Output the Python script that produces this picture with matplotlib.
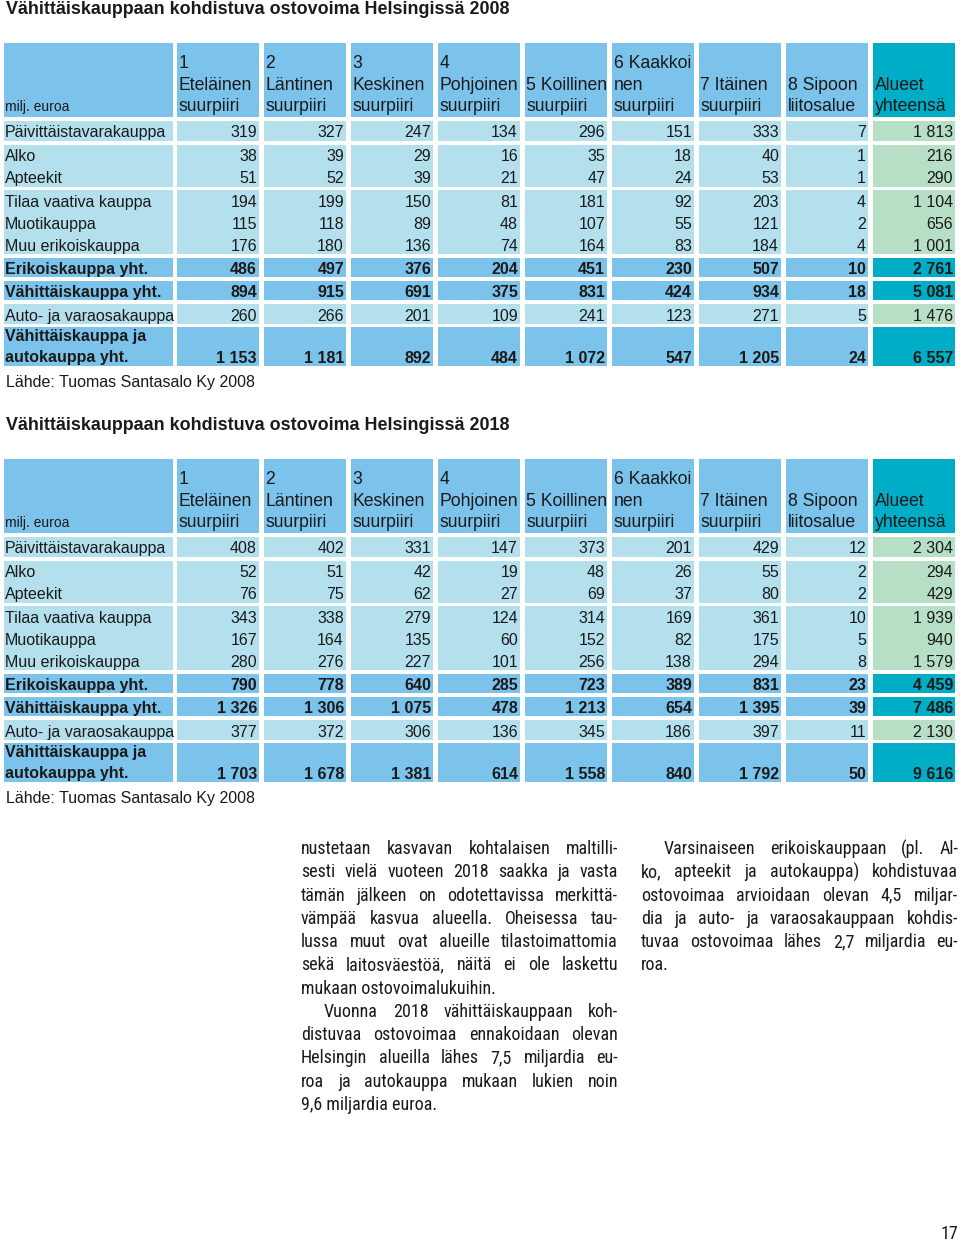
import matplotlib
matplotlib.use("Agg")
import matplotlib.pyplot as plt
from matplotlib.patches import Rectangle
from matplotlib import font_manager as fm

# ---------------- data ----------------
districts = [["1", "Eteläinen", "suurpiiri"],
             ["2", "Läntinen", "suurpiiri"],
             ["3", "Keskinen", "suurpiiri"],
             ["4", "Pohjoinen", "suurpiiri"],
             ["5 Koillinen", "suurpiiri"],
             ["6 Kaakkoi", "nen", "suurpiiri"],
             ["7 Itäinen", "suurpiiri"],
             ["8 Sipoon", "liitosalue"],
             ["Alueet", "yhteensä"]]

categories = ["Päivittäistavarakauppa", "Alko", "Apteekit", "Tilaa vaativa kauppa",
              "Muotikauppa", "Muu erikoiskauppa", "Erikoiskauppa yht.",
              "Vähittäiskauppa yht.", "Auto- ja varaosakauppa",
              "Vähittäiskauppa ja\nautokauppa yht."]

values_2008 = [
    [319, 327, 247, 134, 296, 151, 333, 7, 1813],
    [38, 39, 29, 16, 35, 18, 40, 1, 216],
    [51, 52, 39, 21, 47, 24, 53, 1, 290],
    [194, 199, 150, 81, 181, 92, 203, 4, 1104],
    [115, 118, 89, 48, 107, 55, 121, 2, 656],
    [176, 180, 136, 74, 164, 83, 184, 4, 1001],
    [486, 497, 376, 204, 451, 230, 507, 10, 2761],
    [894, 915, 691, 375, 831, 424, 934, 18, 5081],
    [260, 266, 201, 109, 241, 123, 271, 5, 1476],
    [1153, 1181, 892, 484, 1072, 547, 1205, 24, 6557],
]

values_2018 = [
    [408, 402, 331, 147, 373, 201, 429, 12, 2304],
    [52, 51, 42, 19, 48, 26, 55, 2, 294],
    [76, 75, 62, 27, 69, 37, 80, 2, 429],
    [343, 338, 279, 124, 314, 169, 361, 10, 1939],
    [167, 164, 135, 60, 152, 82, 175, 5, 940],
    [280, 276, 227, 101, 256, 138, 294, 8, 1579],
    [790, 778, 640, 285, 723, 389, 831, 23, 4459],
    [1326, 1306, 1075, 478, 1213, 654, 1395, 39, 7486],
    [377, 372, 306, 136, 345, 186, 397, 11, 2130],
    [1703, 1678, 1381, 614, 1558, 840, 1792, 50, 9616],
]

titles = ["Vähittäiskauppaan kohdistuva ostovoima Helsingissä 2008",
          "Vähittäiskauppaan kohdistuva ostovoima Helsingissä 2018"]
unit_label = "milj. euroa"
source_label = "Lähde: Tuomas Santasalo Ky 2008"

body_col1 = [
    ["nustetaan kasvavan kohtalaisen maltilli-",
     "sesti vielä vuoteen 2018 saakka ja vasta",
     "tämän jälkeen on odotettavissa merkittä-",
     "vämpää kasvua alueella. Oheisessa tau-",
     "lussa muut ovat alueille tilastoimattomia",
     "sekä laitosväestöä, näitä ei ole laskettu",
     "mukaan ostovoimalukuihin."],
    ["Vuonna 2018 vähittäiskauppaan koh-",
     "distuvaa ostovoimaa ennakoidaan olevan",
     "Helsingin alueilla lähes 7,5 miljardia eu-",
     "roa ja autokauppa mukaan lukien noin",
     "9,6 miljardia euroa."],
]
body_col2 = [
    ["Varsinaiseen erikoiskauppaan (pl. Al-",
     "ko, apteekit ja autokauppa) kohdistuvaa",
     "ostovoimaa arvioidaan olevan 4,5 miljar-",
     "dia ja auto- ja varaosakauppaan kohdis-",
     "tuvaa ostovoimaa lähes 2,7 miljardia eu-",
     "roa."],
]
page_number = "17"

# ---------------- style ----------------
HEAD = "#7cc3eb"
CELL = "#b4e0ed"
GREEN = "#b6dfc6"
TEAL = "#00adc6"
TXT = "#1a1a1a"
FONT = ["Liberation Sans", "DejaVu Sans"]

def pick_font(cands):
    for c in cands:
        try:
            fm.findfont(fm.FontProperties(family=c), fallback_to_default=False)
            return c
        except Exception:
            pass
    return "DejaVu Sans"

BODY_FONT = pick_font(["Liberation Sans Narrow", "DejaVu Sans Condensed", "Roboto Condensed", "Open Sans Condensed", "Lato"])

fig = plt.figure(figsize=(9.6, 12.42), dpi=100)
ax = fig.add_axes([0, 0, 1, 1])
ax.set_xlim(0, 960)
ax.set_ylim(1242, 0)
ax.axis("off")

col_left = [4] + [177 + 87 * i for i in range(9)]
col_right = [173] + [259 + 87 * i for i in range(9)]

# row blocks: (top, bottom, [(category index, text y)], bold)
blocks = [
    (121, 141, [(0, 131)], False),
    (145, 187, [(1, 155), (2, 177)], False),
    (190, 254, [(3, 201), (4, 223), (5, 245)], False),
    (258, 277, [(6, 268)], True),
    (281, 300, [(7, 291)], True),
    (304, 324, [(8, 315)], False),
    (327, 366, [(9, 357)], True),
]
DY = 1.5  # small vertical nudge of table text

def fmt(v):
    return f"{v:,}".replace(",", " ")

def draw_table(off, title_base, title, values):
    ax.text(6, title_base, title, fontsize=12.9, fontweight="bold",
            family=FONT, color=TXT, va="baseline", ha="left")
    # header
    for c in range(10):
        color = TEAL if c == 9 else HEAD
        ax.add_patch(Rectangle((col_left[c], 43 + off), col_right[c] - col_left[c], 74,
                               facecolor=color, edgecolor="none"))
    ax.text(col_left[0] + 1, 105 + off + DY, unit_label, fontsize=10, family=FONT,
            color=TXT, va="center", ha="left")
    line_y = [62, 84, 105]
    for c, lines in enumerate(districts):
        ys = line_y[-len(lines):]
        for ln, y in zip(lines, ys):
            ax.text(col_left[c + 1] + 1.5, y + off + DY, ln, fontsize=12.7, family=FONT,
                    color=TXT, va="center", ha="left")
    # body
    for top, bot, rows, bold in blocks:
        for c in range(10):
            if bold:
                color = TEAL if c == 9 else HEAD
            else:
                color = GREEN if c == 9 else CELL
            ax.add_patch(Rectangle((col_left[c], top + off), col_right[c] - col_left[c], bot - top,
                                   facecolor=color, edgecolor="none"))
        fw = "bold" if bold else "normal"
        for ri, y in rows:
            lab = categories[ri]
            if "\n" in lab:
                l1, l2 = lab.split("\n")
                ax.text(col_left[0] + 1, 335 + off + DY, l1, fontsize=11.5, fontweight=fw,
                        family=FONT, color=TXT, va="center", ha="left")
                ax.text(col_left[0] + 1, 356 + off + DY, l2, fontsize=11.5, fontweight=fw,
                        family=FONT, color=TXT, va="center", ha="left")
            else:
                ax.text(col_left[0] + 1, y + off + DY, lab, fontsize=11.5, fontweight=fw,
                        family=FONT, color=TXT, va="center", ha="left")
            for c in range(9):
                ax.text(col_right[c + 1] - 2, y + off + DY, fmt(values[ri][c]), fontsize=11.5,
                        fontweight=fw, family=FONT, color=TXT, va="center", ha="right")
    ax.text(6, 381 + off + DY, source_label, fontsize=11.5, family=FONT, color=TXT,
            va="center", ha="left")

draw_table(0, 14.5, titles[0], values_2008)
draw_table(416, 430, titles[1], values_2018)

# ---------------- justified body text ----------------
renderer = fig.canvas.get_renderer()
BODY_SIZE = 13

def word_width(w):
    t = ax.text(0, 0, w, fontsize=BODY_SIZE, family=BODY_FONT)
    bb = t.get_window_extent(renderer)
    t.remove()
    return bb.width

def draw_column(paras, x0, x1, y0, lh, first_indent):
    y = y0
    for pi, para in enumerate(paras):
        for li, line in enumerate(para):
            indent = 23 if (li == 0 and (pi > 0 or first_indent)) else 0
            words = line.split(" ")
            widths = [word_width(w) for w in words]
            left = x0 + indent
            last = li == len(para) - 1
            if last or len(words) == 1:
                ax.text(left, y, line, fontsize=BODY_SIZE, family=BODY_FONT,
                        color=TXT, va="center", ha="left")
            else:
                gap = max(2.0, (x1 - left - sum(widths)) / (len(words) - 1))
                x = left
                for w, wd in zip(words, widths):
                    ax.text(x, y, w, fontsize=BODY_SIZE, family=BODY_FONT,
                            color=TXT, va="center", ha="left")
                    x += wd + gap
            y += lh

draw_column(body_col1, 301, 618, 849, 23.27, False)
draw_column(body_col2, 641, 958, 849, 23.27, True)

ax.text(958, 1234, page_number, fontsize=13, family=BODY_FONT, color=TXT,
        va="center", ha="right")

fig.savefig("out.png", dpi=100)
